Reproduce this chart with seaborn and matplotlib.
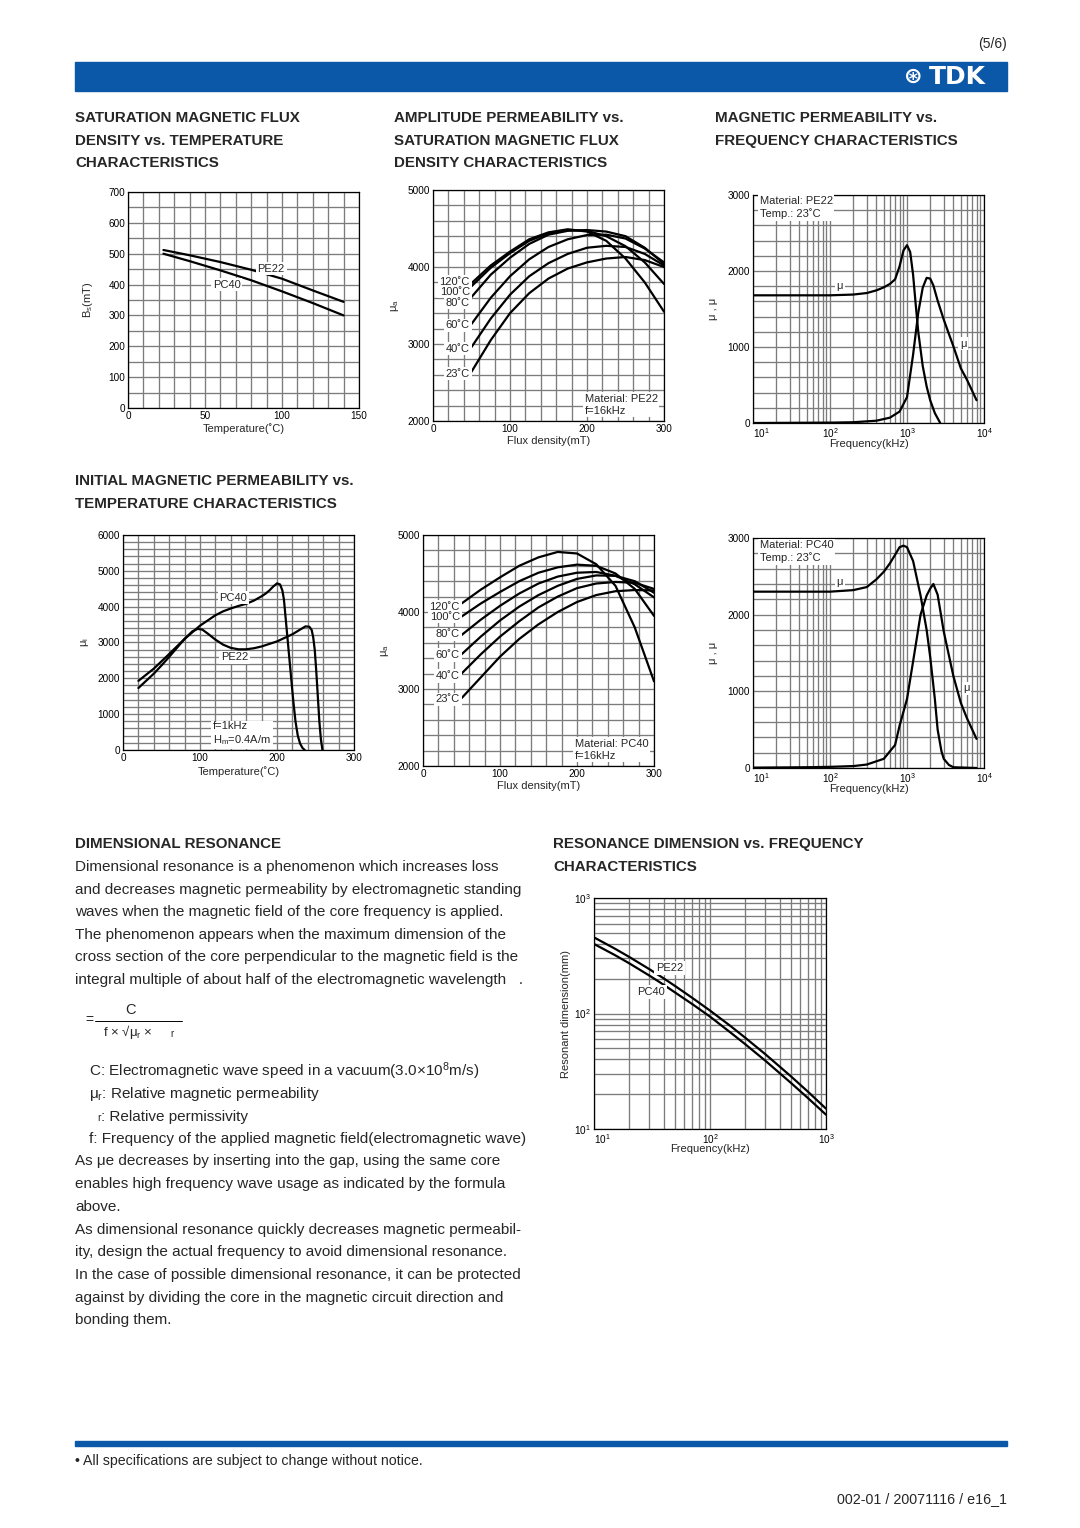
import numpy as np
import pandas as pd
import matplotlib
matplotlib.use("Agg")
import matplotlib.pyplot as plt
import matplotlib.ticker as mticker
import seaborn as sns

# ---------------- data ----------------
# saturation flux density vs temperature
bs_temp = [23, 40, 60, 80, 100, 120, 140]
bs_pe22 = [512, 495, 473, 448, 419, 381, 344]
bs_pc40 = [500, 476, 446, 414, 378, 340, 300]

# amplitude permeability vs flux density, f=16kHz
flux_b = [50, 75, 100, 125, 150, 175, 200, 225, 250, 275, 300]
temp_labels = ["120˚C", "100˚C", "80˚C", "60˚C", "40˚C", "23˚C"]
pe22_mua_120 = [3790, 4020, 4200, 4360, 4450, 4490, 4460, 4340, 4110, 3800, 3420]
pe22_mua_100 = [3750, 3990, 4180, 4340, 4440, 4480, 4470, 4400, 4270, 4060, 3780]
pe22_mua_80 = [3610, 3900, 4120, 4300, 4420, 4470, 4480, 4460, 4400, 4250, 4040]
pe22_mua_60 = [3260, 3600, 3880, 4100, 4260, 4360, 4415, 4420, 4370, 4240, 4060]
pe22_mua_40 = [2960, 3330, 3640, 3880, 4050, 4170, 4250, 4275, 4260, 4170, 4020]
pe22_mua_23 = [2640, 3050, 3400, 3660, 3850, 3980, 4060, 4110, 4130, 4090, 4000]
pe22_label_mu = [3808, 3678, 3535, 3244, 2941, 2616]

pc40_mua_120 = [4110, 4290, 4450, 4600, 4710, 4780, 4760, 4620, 4340, 3800, 3100]
pc40_mua_100 = [3940, 4110, 4260, 4400, 4510, 4580, 4615, 4600, 4500, 4300, 3950]
pc40_mua_80 = [3700, 3900, 4080, 4240, 4370, 4460, 4510, 4520, 4470, 4360, 4190]
pc40_mua_60 = [3450, 3680, 3890, 4070, 4220, 4340, 4430, 4475, 4470, 4400, 4250]
pc40_mua_40 = [3200, 3450, 3680, 3880, 4060, 4200, 4310, 4370, 4390, 4380, 4300]
pc40_mua_23 = [2880, 3150, 3420, 3650, 3840, 4000, 4130, 4220, 4270, 4285, 4280]
pc40_label_mu = [4068, 3938, 3708, 3440, 3170, 2867]

# complex permeability vs frequency, 23˚C
pe22_f_re = [10, 100, 200, 300, 400, 500, 600, 700, 800, 900, 1000, 1100, 1200,
             1300, 1400, 1600, 1800, 2000, 2300, 2700]
pe22_mu_re = [1680, 1680, 1690, 1710, 1745, 1785, 1830, 1890, 2060, 2270, 2340, 2250,
              1950, 1550, 1200, 750, 480, 300, 130, 0]
pe22_f_im = [10, 100, 200, 400, 600, 800, 1000, 1200, 1400, 1600, 1800, 2000, 2200,
             2500, 3000, 4000, 5000, 6000, 8000]
pe22_mu_im = [0, 5, 10, 30, 70, 150, 340, 900, 1450, 1780, 1910, 1900, 1810,
              1610, 1360, 1010, 720, 570, 300]

pc40_f_re = [10, 100, 200, 300, 400, 500, 600, 700, 800, 900, 1000, 1200, 1500,
             1800, 2000, 2300, 2500, 2800, 3000, 3500, 4000, 8000]
pc40_mu_re = [2300, 2300, 2320, 2360, 2460, 2560, 2670, 2780, 2880, 2900, 2880, 2700,
              2250, 1800, 1450, 900, 500, 220, 120, 40, 10, 0]
pc40_f_im = [10, 50, 100, 200, 300, 500, 700, 800, 1000, 1200, 1500, 1800, 2000,
             2200, 2500, 3000, 4000, 5000, 6000, 8000]
pc40_mu_im = [5, 10, 15, 25, 45, 120, 300, 550, 900, 1390, 2000, 2250, 2340,
              2400, 2260, 1780, 1200, 850, 650, 380]

# initial permeability vs temperature, f=1kHz
mui_t_pc40 = [20, 40, 60, 80, 100, 120, 130, 140, 150, 160, 170, 180, 185, 190,
              195, 200, 204, 207, 209, 212, 215, 218, 221, 224, 227, 230, 233, 236]
mui_pc40 = [1930, 2270, 2680, 3100, 3470, 3760, 3870, 3950, 4020, 4080, 4170, 4290,
            4360, 4450, 4560, 4650, 4620, 4450, 4200, 3500, 2800, 2100, 1400, 800,
            400, 180, 60, 0]
mui_t_pe22 = [20, 30, 40, 50, 60, 70, 80, 90, 97, 103, 110, 120, 130, 140, 150, 160,
              170, 180, 200, 220, 230, 237, 242, 245, 247, 249, 251, 253, 255, 257, 259]
mui_pe22 = [1730, 1930, 2130, 2360, 2600, 2850, 3100, 3310, 3380, 3360, 3250, 3080,
            2940, 2850, 2810, 2810, 2840, 2890, 3030, 3230, 3360, 3450, 3440, 3350,
            3150, 2800, 2200, 1500, 800, 300, 0]

# resonance dimension vs frequency
res_f = [10, 15, 20, 30, 40, 50, 70, 100, 150, 200, 300, 500, 700, 1000]
res_pe22 = [456, 366, 310, 242, 201, 173, 137, 106, 78, 62, 44.4, 28.5, 21, 15]
res_pc40 = [400, 322, 273, 213, 177, 152, 121, 94, 68.5, 54.5, 39, 25, 18.5, 13.3]

# ---------------- page setup ----------------
sns.set_style("white")
plt.rcParams["font.family"] = ["Liberation Sans", "DejaVu Sans"]
plt.rcParams["mathtext.default"] = "regular"

W, H = 1080, 1528
BLUE = "#0b57a8"
GRID = "#7c7c7c"
fig = plt.figure(figsize=(W / 100, H / 100), dpi=100)


def box(l, t, r, b):
    return fig.add_axes([l / W, 1 - b / H, (r - l) / W, (b - t) / H])


def txt(x, y, s, **kw):
    kw.setdefault("va", "center")
    fig.text(x / W, 1 - y / H, s, **kw)


def style(ax, xlim, ylim, xmaj=None, xmin=None, ymaj=None, ymin=None,
          logx=False, logy=False):
    if logx:
        ax.set_xscale("log")
        ax.set_xticks(xmaj)
        ax.xaxis.set_major_formatter(mticker.LogFormatterSciNotation())
        ax.xaxis.set_minor_locator(mticker.LogLocator(base=10, subs=np.arange(2, 10)))
        ax.xaxis.set_minor_formatter(mticker.NullFormatter())
    else:
        ax.set_xticks(xmaj)
        ax.set_xticks(xmin, minor=True)
    if logy:
        ax.set_yscale("log")
        ax.set_yticks(ymaj)
        ax.yaxis.set_major_formatter(mticker.LogFormatterSciNotation())
        ax.yaxis.set_minor_locator(mticker.LogLocator(base=10, subs=np.arange(2, 10)))
        ax.yaxis.set_minor_formatter(mticker.NullFormatter())
    else:
        ax.set_yticks(ymaj)
        ax.set_yticks(ymin, minor=True)
    ax.set_xlim(xlim)
    ax.set_ylim(ylim)
    ax.grid(which="both", color=GRID, lw=0.95)
    ax.set_axisbelow(True)
    ax.tick_params(which="both", length=0, labelsize=7.2, pad=2, colors="black")
    for s in ax.spines.values():
        s.set_color("black")
        s.set_linewidth(0.9)
    if logx:
        # first decade label sits just right of the corner, as on the sheet
        ax.get_xticklabels()[0].set_horizontalalignment("left")


def labels(ax, xl, yl, xc, yc):
    ax.set_xlabel(xl, fontsize=8)
    ax.set_ylabel(yl, fontsize=8)
    ax.xaxis.set_label_coords(0.5, xc)
    ax.yaxis.set_label_coords(yc, 0.5)


def note(ax, x, y, s, **kw):
    kw.setdefault("ha", "center")
    ax.text(x, y, s, fontsize=8, va="center", linespacing=1.25,
            bbox=dict(fc="white", ec="none", pad=1.2), **kw)


LW = 1.6

# ---- 1: Bs vs temperature ----
ax1 = box(128, 192, 359, 408)
df1 = pd.DataFrame({"T": bs_temp * 2, "Bs": bs_pe22 + bs_pc40,
                    "mat": ["PE22"] * 7 + ["PC40"] * 7})
sns.lineplot(data=df1, x="T", y="Bs", units="mat", estimator=None, color="black",
             lw=LW, ax=ax1, legend=False)
style(ax1, (0, 150), (0, 700), [0, 50, 100, 150], np.arange(0, 151, 10),
      np.arange(0, 701, 100), np.arange(0, 701, 50))
labels(ax1, "Temperature(˚C)", "B$_s$(mT)", -0.069, -0.143)
note(ax1, 93, 452, "PE22")
note(ax1, 64, 400, "PC40")


# ---- amplitude permeability charts ----
def amp_chart(rect, curves, lab_mu, mat):
    ax = box(*rect)
    n = len(flux_b)
    df = pd.DataFrame({"B": flux_b * len(curves),
                       "mu": sum(curves, []),
                       "t": sum([[t] * n for t in temp_labels], [])})
    sns.lineplot(data=df, x="B", y="mu", units="t", estimator=None, color="black",
                 lw=LW, ax=ax, legend=False)
    style(ax, (0, 300), (2000, 5000), [0, 100, 200, 300], np.arange(0, 301, 20),
          np.arange(2000, 5001, 1000), np.arange(2000, 5001, 200))
    labels(ax, "Flux density(mT)", "μ$_a$", -0.067, -0.14)
    for t, m in zip(temp_labels, lab_mu):
        note(ax, 48, m, t, ha="right")
    note(ax, 197, 2210, f"Material: {mat}\nf=16kHz", ha="left")
    return ax


amp_chart((433, 190, 664, 421),
          [pe22_mua_120, pe22_mua_100, pe22_mua_80, pe22_mua_60, pe22_mua_40, pe22_mua_23],
          pe22_label_mu, "PE22")
amp_chart((423, 535, 654, 766),
          [pc40_mua_120, pc40_mua_100, pc40_mua_80, pc40_mua_60, pc40_mua_40, pc40_mua_23],
          pc40_label_mu, "PC40")


# ---- complex permeability charts ----
def freq_chart(rect, f_re, mu_re, f_im, mu_im, mat, box_mu, re_lab, im_lab):
    ax = box(*rect)
    df = pd.DataFrame({"f": f_re + f_im, "mu": mu_re + mu_im,
                       "part": ["re"] * len(f_re) + ["im"] * len(f_im)})
    sns.lineplot(data=df, x="f", y="mu", units="part", estimator=None, color="black",
                 lw=LW, ax=ax, legend=False, sort=False)
    style(ax, (10, 1e4), (0, 3000), xmaj=[10, 100, 1000, 10000],
          ymaj=np.arange(0, 3001, 1000), ymin=np.arange(0, 3001, 200), logx=True)
    labels(ax, "Frequency(kHz)", "μ , μ", -0.068, -0.152)
    note(ax, 12.2, box_mu, f"Material: {mat}\nTemp.: 23˚C", ha="left")
    note(ax, re_lab[0], re_lab[1], "μ")
    note(ax, im_lab[0], im_lab[1], "μ")
    return ax


freq_chart((753, 195, 984, 423), pe22_f_re, pe22_mu_re, pe22_f_im, pe22_mu_im,
           "PE22", 2836, (134, 1805), (5400, 1043))
freq_chart((753, 538, 984, 768), pc40_f_re, pc40_mu_re, pc40_f_im, pc40_mu_im,
           "PC40", 2820, (134, 2424), (5940, 1038))

# ---- initial permeability vs temperature ----
ax4 = box(123, 535, 354, 750)
df4 = pd.DataFrame({"T": mui_t_pc40 + mui_t_pe22, "mu": mui_pc40 + mui_pe22,
                    "mat": ["PC40"] * len(mui_t_pc40) + ["PE22"] * len(mui_t_pe22)})
sns.lineplot(data=df4, x="T", y="mu", units="mat", estimator=None, color="black",
             lw=LW, ax=ax4, legend=False, sort=False)
style(ax4, (0, 300), (0, 6000), [0, 100, 200, 300], np.arange(0, 301, 20),
      np.arange(0, 6001, 1000), np.arange(0, 6001, 200))
labels(ax4, "Temperature(˚C)", "μ$_i$", -0.074, -0.139)
note(ax4, 143, 4254, "PC40")
note(ax4, 145, 2582, "PE22")
note(ax4, 117, 437, "f=1kHz\nH$_m$=0.4A/m", ha="left")

# ---- resonance dimension vs frequency ----
ax7 = box(594, 898, 826, 1129)
df7 = pd.DataFrame({"f": res_f * 2, "d": res_pe22 + res_pc40,
                    "mat": ["PE22"] * len(res_f) + ["PC40"] * len(res_f)})
sns.lineplot(data=df7, x="f", y="d", units="mat", estimator=None, color="black",
             lw=LW, ax=ax7, legend=False)
style(ax7, (10, 1000), (10, 1000), xmaj=[10, 100, 1000], ymaj=[10, 100, 1000],
      logx=True, logy=True)
labels(ax7, "Frequency(kHz)", "Resonant dimension(mm)", -0.065, -0.1)
note(ax7, 45, 248, "PE22")
note(ax7, 31, 154, "PC40")

# ---------------- page furniture ----------------
fig.patches.append(plt.Rectangle((75 / W, 1 - 91 / H), 932 / W, 29 / H,
                                 transform=fig.transFigure, color=BLUE))
fig.patches.append(plt.Rectangle((75 / W, 1 - 1446 / H), 932 / W, 5 / H,
                                 transform=fig.transFigure, color=BLUE))
txt(986, 77, "TDK", ha="right", color="white", fontsize=18, fontweight="bold",
    family=["DejaVu Sans"])
txt(913, 77, "⊛", ha="center", color="white", fontsize=16, fontweight="bold",
    family=["DejaVu Sans"])
txt(1007, 44, "(5/6)", ha="right", fontsize=10)

HB = dict(fontsize=10.9, fontweight="bold")
for x, lines in [(75, ["SATURATION MAGNETIC FLUX", "DENSITY vs. TEMPERATURE", "CHARACTERISTICS"]),
                 (394, ["AMPLITUDE PERMEABILITY vs.", "SATURATION MAGNETIC FLUX",
                        "DENSITY CHARACTERISTICS"]),
                 (715, ["MAGNETIC PERMEABILITY vs.", "FREQUENCY CHARACTERISTICS"])]:
    for i, s in enumerate(lines):
        txt(x, 118 + 22.7 * i, s, **HB)
txt(75, 481, "INITIAL MAGNETIC PERMEABILITY vs.", **HB)
txt(75, 504, "TEMPERATURE CHARACTERISTICS", **HB)
txt(75, 844, "DIMENSIONAL RESONANCE", **HB)
txt(553, 844, "RESONANCE DIMENSION vs. FREQUENCY", **HB)
txt(553, 867, "CHARACTERISTICS", **HB)

BODY = dict(fontsize=11)
para1 = ["Dimensional resonance is a phenomenon which increases loss",
         "and decreases magnetic permeability by electromagnetic standing",
         "waves when the magnetic field of the core frequency is applied.",
         "The phenomenon appears when the maximum dimension of the",
         "cross section of the core perpendicular to the magnetic field is the",
         "integral multiple of about half of the electromagnetic wavelength   ."]
for i, s in enumerate(para1):
    txt(75, 867 + 22.6 * i, s, **BODY)

# formula
txt(89, 1020, "=", ha="center", fontsize=10)
fig.add_artist(plt.Line2D([95 / W, 182 / W], [1 - 1020.5 / H] * 2, color="black", lw=0.7))
txt(131, 1010, "C", ha="center", fontsize=10.5)
txt(103, 1032, "f × √μ$_r$ ×", fontsize=9.5)
txt(170, 1034, "r", fontsize=7)

txt(89, 1071.5, "C: Electromagnetic wave speed in a vacuum(3.0×10$^8$m/s)", **BODY)
txt(89, 1094, "μ$_r$: Relative magnetic permeability", **BODY)
txt(97, 1118, "r", fontsize=7.5)
txt(101, 1116.5, ": Relative permissivity", **BODY)
txt(89, 1139, "f: Frequency of the applied magnetic field(electromagnetic wave)", **BODY)

para2 = ["As μe decreases by inserting into the gap, using the same core",
         "enables high frequency wave usage as indicated by the formula",
         "above.",
         "As dimensional resonance quickly decreases magnetic permeabil-",
         "ity, design the actual frequency to avoid dimensional resonance.",
         "In the case of possible dimensional resonance, it can be protected",
         "against by dividing the core in the magnetic circuit direction and",
         "bonding them."]
for i, s in enumerate(para2):
    txt(75, 1161.5 + 22.7 * i, s, **BODY)

txt(75, 1461, "• All specifications are subject to change without notice.", fontsize=10.2)
txt(1007, 1499, "002-01 / 20071116 / e16_1", ha="right", fontsize=10.3)

fig.savefig("out.png", dpi=100)
